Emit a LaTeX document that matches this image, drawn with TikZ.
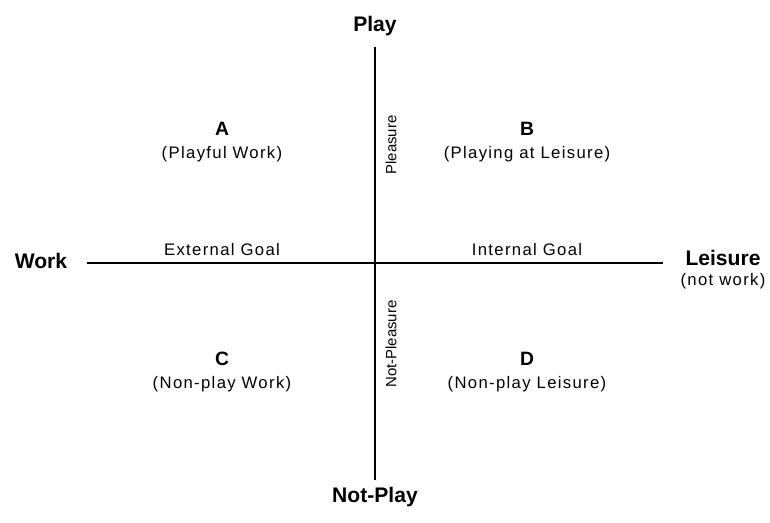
\documentclass[tikz,border=0pt]{standalone}
\usepackage{fontspec}
\setmainfont{Liberation Sans}
\newfontfamily\widesans{Liberation Sans}[LetterSpace=8]
\usetikzlibrary{positioning}
\tikzset{
  axislabel/.style = {font=\fontsize{12}{14}\selectfont\bfseries, inner sep=1pt},
  quadrant/.style  = {align=center, font=\widesans\fontsize{9.5}{12}\selectfont, inner sep=1pt},
  goal/.style      = {font=\widesans\fontsize{9.5}{11}\selectfont, inner sep=1pt},
  feeling/.style   = {rotate=90, font=\fontsize{8.5}{10}\selectfont, inner sep=1pt},
  axis/.style      = {line width=0.7pt}
}
\newcommand{\qletter}[1]{{\fontsize{11}{13}\selectfont\bfseries #1}}

\begin{document}
\begin{tikzpicture}[x=0.02cm, y=-0.02cm]
  \useasboundingbox (0,0) rectangle (770,522);

  % axes
  \coordinate (top) at (375,47);
  \coordinate (bottom) at (375,480);
  \coordinate (left) at (87,263);
  \coordinate (right) at (663,263);
  \draw[axis] (top) -- (bottom);
  \draw[axis] (left) -- (right);

  % ends of the axes
  \node[axislabel] (play) at (375,26) {Play};
  \node[axislabel] (notplay) at (375,497) {Not-Play};
  \node[axislabel] (work) at (41,261) {Work};
  \node[axislabel] (leisure) at (723,258) {Leisure};
  \node[goal, below=2pt of leisure] (notwork) {(not work)};

  % along the axes
  \node[goal] (extgoal) at (222,250) {External Goal};
  \node[goal] (intgoal) at (527,250) {Internal Goal};
  \node[feeling] (pleasure) at (391,145) {Pleasure};
  \node[feeling] (notpleasure) at (391,344) {Not-Pleasure};

  % quadrants
  \node[quadrant] (a) at (222,142) {\qletter{A}\\[1pt] (Playful Work)};
  \node[quadrant] (b) at (527,142) {\qletter{B}\\[1pt] (Playing at Leisure)};
  \node[quadrant] (c) at (222,372) {\qletter{C}\\[1pt] (Non-play Work)};
  \node[quadrant] (d) at (527,372) {\qletter{D}\\[1pt] (Non-play Leisure)};
\end{tikzpicture}
\end{document}
